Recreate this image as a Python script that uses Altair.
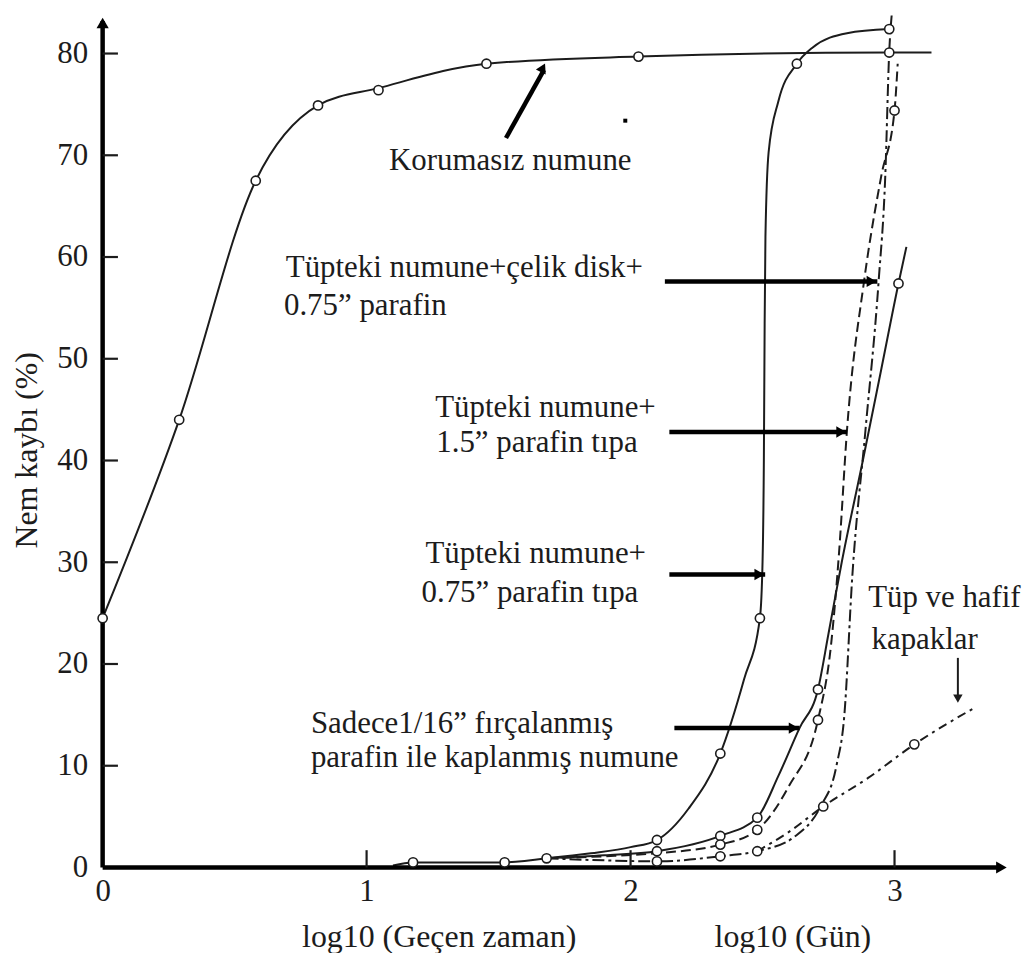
import altair as alt
import pandas as pd

# ---------------- data (x = log10 time, y = Nem kaybı %) ----------------
# Korumasız numune (solid, circles)
kor_x = [0.0, 0.29, 0.58, 0.816, 1.045, 1.454, 2.03, 2.98, 3.14]
kor_y = [24.5, 44.0, 67.5, 74.9, 76.6, 79.0, 79.7, 80.1, 80.1]
kor_mx = [0.0, 0.29, 0.58, 0.816, 1.045, 1.454, 2.03, 2.98]
kor_my = [24.5, 44.0, 67.5, 74.9, 76.4, 79.0, 79.7, 80.1]

# common start along the axis
ort_x = [1.1, 1.176, 1.523, 1.682]
ort_y = [0.2, 0.5, 0.5, 0.9]
ort_mx = [1.176, 1.523, 1.682]
ort_my = [0.5, 0.5, 0.9]

# Tüpteki numune + 0.75" parafin tıpa (solid)
t075_x = [1.682, 1.85, 2.0, 2.10, 2.22, 2.34, 2.43, 2.49, 2.50, 2.505, 2.508, 2.511, 2.523, 2.56, 2.63, 2.69, 2.82, 2.98]
t075_y = [0.9, 1.4, 2.0, 2.7, 5.8, 11.2, 18.5, 24.5, 30.0, 40.0, 53.5, 62.0, 70.3, 75.3, 79.0, 80.6, 82.0, 82.4]
t075_mx = [2.10, 2.34, 2.49, 2.63, 2.98]
t075_my = [2.7, 11.2, 24.5, 79.0, 82.4]

# Sadece 1/16" fırçalanmış parafin (solid)
fir_x = [1.682, 1.9, 2.10, 2.34, 2.48, 2.56, 2.64, 2.71, 2.75, 2.80, 2.88, 2.95, 3.015, 3.045]
fir_y = [0.9, 1.2, 1.6, 3.1, 4.9, 9.0, 13.7, 17.5, 23.0, 30.0, 40.0, 49.0, 57.4, 61.0]
fir_mx = [2.10, 2.34, 2.48, 2.71, 3.015]
fir_my = [1.6, 3.1, 4.9, 17.5, 57.4]

# Tüpteki numune + 1.5" parafin tıpa (dashed)
t15_x = [1.682, 1.9, 2.10, 2.34, 2.48, 2.60, 2.71, 2.76, 2.79, 2.82, 2.885, 2.95, 3.0, 3.012]
t15_y = [0.9, 1.1, 1.4, 2.25, 3.7, 8.0, 14.5, 22.0, 31.0, 43.0, 57.7, 68.0, 74.4, 79.0]
t15_mx = [2.34, 2.48, 2.71, 3.0]
t15_my = [2.25, 3.7, 14.5, 74.4]

# Tüpteki numune + çelik disk + 0.75" parafin (dash-dot)
cel_x = [1.682, 1.9, 2.10, 2.34, 2.48, 2.62, 2.72, 2.78, 2.81, 2.84, 2.89, 2.94, 2.965, 2.98, 2.99]
cel_y = [0.9, 0.7, 0.6, 1.1, 1.6, 3.0, 6.0, 10.0, 15.0, 28.6, 43.0, 57.7, 68.0, 80.2, 84.0]
cel_mx = [2.10, 2.34, 2.48]
cel_my = [0.6, 1.1, 1.6]

# Tüp ve hafif kapaklar (dash-dot)
haf_x = [2.48, 2.60, 2.73, 2.90, 3.075, 3.31]
haf_y = [1.6, 3.5, 6.0, 8.8, 12.1, 15.8]
haf_mx = [2.73, 3.075]
haf_my = [6.0, 12.1]

# annotations
note_text = ["Korumasız numune", "Tüpteki numune+çelik disk+", "0.75” parafin",
             "Tüpteki numune+", "1.5” parafin tıpa", "Tüpteki numune+",
             "0.75” parafin tıpa", "Sadece1/16” fırçalanmış",
             "parafin ile kaplanmış numune", "Tüp ve hafif", "kapaklar"]
note_x = [1.085, 0.694, 0.687, 1.260, 1.264, 1.223, 1.208, 0.789, 0.789, 2.90, 2.913]
note_y = [69.4, 58.9, 55.2, 45.2, 41.7, 30.8, 27.0, 14.1, 10.8, 26.5, 22.4]

# horizontal arrows pointing at the curves
arr_x1 = [2.13, 2.147, 2.147, 2.166]
arr_x2 = [2.935, 2.82, 2.51, 2.64]
arr_y = [57.6, 42.8, 28.8, 13.7]

x_ticks = [0, 1, 2, 3]
y_ticks = [0, 10, 20, 30, 40, 50, 60, 70, 80]

# ---------------- chart ----------------
FONT = "Liberation Serif"
INK = "#1c1c1c"
W, H = 914, 858
xs = alt.Scale(domain=[0, W / 265.0], nice=False, zero=False)
ys = alt.Scale(domain=[0, 84], nice=False, zero=False)

AX_X = alt.Axis(values=x_ticks, domain=False, ticks=False, tickSize=0, grid=False,
                labelFont=FONT, labelFontSize=31, labelColor=INK, labelPadding=9,
                title=None, format="d", labelFlush=False)
AX_Y = alt.Axis(values=y_ticks, domain=False, ticks=False, tickSize=0, grid=False,
                labelFont=FONT, labelFontSize=31, labelColor=INK, labelPadding=15,
                title=None, format="d", labelFlush=False)


def X(f="x"):
    return alt.X(f"{f}:Q", scale=xs, axis=AX_X)


def Y(f="y"):
    return alt.Y(f"{f}:Q", scale=ys, axis=AX_Y)


def line_layer(xv, yv, dash=None, width=2.0):
    df = pd.DataFrame({"x": xv, "y": yv, "i": range(len(xv))})
    kw = dict(interpolate="monotone", color=INK, strokeWidth=width)
    if dash:
        kw["strokeDash"] = dash
    return alt.Chart(df).mark_line(**kw).encode(x=X(), y=Y(), order="i:Q")


def marker_layer(xv, yv):
    df = pd.DataFrame({"x": xv, "y": yv})
    return alt.Chart(df).mark_point(shape="circle", fill="white", fillOpacity=1,
                                    stroke=INK, strokeWidth=1.6, size=85,
                                    opacity=1).encode(x=X(), y=Y())


layers = []
# curves
layers.append(line_layer(kor_x, kor_y))
layers.append(line_layer(ort_x, ort_y))
layers.append(line_layer(t075_x, t075_y))
layers.append(line_layer(fir_x, fir_y))
layers.append(line_layer(t15_x, t15_y, dash=[10, 5]))
layers.append(line_layer(cel_x, cel_y, dash=[12, 4, 3, 4]))
layers.append(line_layer(haf_x, haf_y, dash=[9, 5, 3, 5]))

# axes lines
ax_df = pd.DataFrame({"x": [0.0, 0.0], "x2": [0.0, 3.40], "y": [0.0, 0.0], "y2": [83.2, 0.0]})
layers.append(alt.Chart(ax_df).mark_rule(color="black", strokeWidth=4.5).encode(
    x=X(), x2="x2:Q", y=Y(), y2="y2:Q"))
layers.append(alt.Chart(pd.DataFrame({"x": [0.0], "y": [83.0]})).mark_point(
    shape="triangle-up", filled=True, color="black", size=150, opacity=1).encode(x=X(), y=Y()))
layers.append(alt.Chart(pd.DataFrame({"x": [3.405], "y": [0.0]})).mark_point(
    shape="triangle-right", filled=True, color="black", size=150, opacity=1).encode(x=X(), y=Y()))

# inward ticks
ytk = pd.DataFrame({"x": [0.0] * 8, "x2": [0.058] * 8, "y": y_ticks[1:]})
layers.append(alt.Chart(ytk).mark_rule(color=INK, strokeWidth=2.2).encode(
    x=X(), x2="x2:Q", y=Y()))
xtk = pd.DataFrame({"x": x_ticks[1:], "y": [0.0] * 3, "y2": [1.7] * 3})
layers.append(alt.Chart(xtk).mark_rule(color=INK, strokeWidth=2.2).encode(
    x=X(), y=Y(), y2="y2:Q"))

# markers
for mx, my in [(kor_mx, kor_my), (ort_mx, ort_my), (t075_mx, t075_my), (fir_mx, fir_my),
               (t15_mx, t15_my), (cel_mx, cel_my), (haf_mx, haf_my)]:
    layers.append(marker_layer(mx, my))

# horizontal annotation arrows
arr_df = pd.DataFrame({"x": arr_x1, "x2": arr_x2, "y": arr_y})
arr_df["hx"] = arr_df["x2"] - 0.022
layers.append(alt.Chart(arr_df).mark_rule(color="black", strokeWidth=4.5).encode(
    x=X(), x2="x2:Q", y=Y()))
layers.append(alt.Chart(arr_df).mark_point(shape="triangle-right", filled=True, color="black",
                                           size=130, opacity=1).encode(x=X("hx"), y=Y()))

# Korumasız arrow (slanted)
kar = pd.DataFrame({"x": [1.528], "x2": [1.672], "y": [71.7], "y2": [78.4]})
layers.append(alt.Chart(kar).mark_rule(color="black", strokeWidth=4.5).encode(
    x=X(), x2="x2:Q", y=Y(), y2="y2:Q"))
layers.append(alt.Chart(pd.DataFrame({"x": [1.668], "y": [78.6]})).mark_point(
    shape="triangle-up", angle=27, filled=True, color="black", size=120, opacity=1).encode(x=X(), y=Y()))

# kapaklar arrow (thin, downward)
kap = pd.DataFrame({"x": [3.24], "y": [20.6], "y2": [16.8]})
layers.append(alt.Chart(kap).mark_rule(color=INK, strokeWidth=2).encode(
    x=X(), y=Y(), y2="y2:Q"))
layers.append(alt.Chart(pd.DataFrame({"x": [3.24], "y": [16.6]})).mark_point(
    shape="triangle-down", filled=True, color=INK, size=90, opacity=1).encode(x=X(), y=Y()))

# stray dot
layers.append(alt.Chart(pd.DataFrame({"x": [1.98], "y": [73.4]})).mark_point(
    shape="square", filled=True, color="black", size=16, opacity=1).encode(x=X(), y=Y()))

# annotation texts
nt = pd.DataFrame({"t": note_text, "x": note_x, "y": note_y})
layers.append(alt.Chart(nt).mark_text(align="left", baseline="middle", font=FONT,
                                      fontSize=31, color=INK).encode(x=X(), y=Y(), text="t:N"))

# axis titles
xt = pd.DataFrame({"t": ["log10 (Geçen zaman)", "log10 (Gün)"], "x": [1.275, 2.615], "y": [-6.8, -6.8]})
layers.append(alt.Chart(xt).mark_text(align="center", baseline="middle", font=FONT,
                                      fontSize=32, color=INK).encode(x=X(), y=Y(), text="t:N"))
yt = pd.DataFrame({"t": ["Nem kaybı (%)"], "x": [-0.287], "y": [41.0]})
layers.append(alt.Chart(yt).mark_text(align="center", baseline="middle", font=FONT, angle=270,
                                      fontSize=32, color=INK).encode(x=X(), y=Y(), text="t:N"))

chart = alt.layer(*layers).properties(
    width=W, height=H,
    autosize=alt.AutoSizeParams(type="none"),
    padding={"left": 95, "top": 3, "right": 15, "bottom": 84},
    background="white",
).configure_view(stroke=None)

chart.save("out.html", embed_options={"renderer": "svg", "actions": False})
